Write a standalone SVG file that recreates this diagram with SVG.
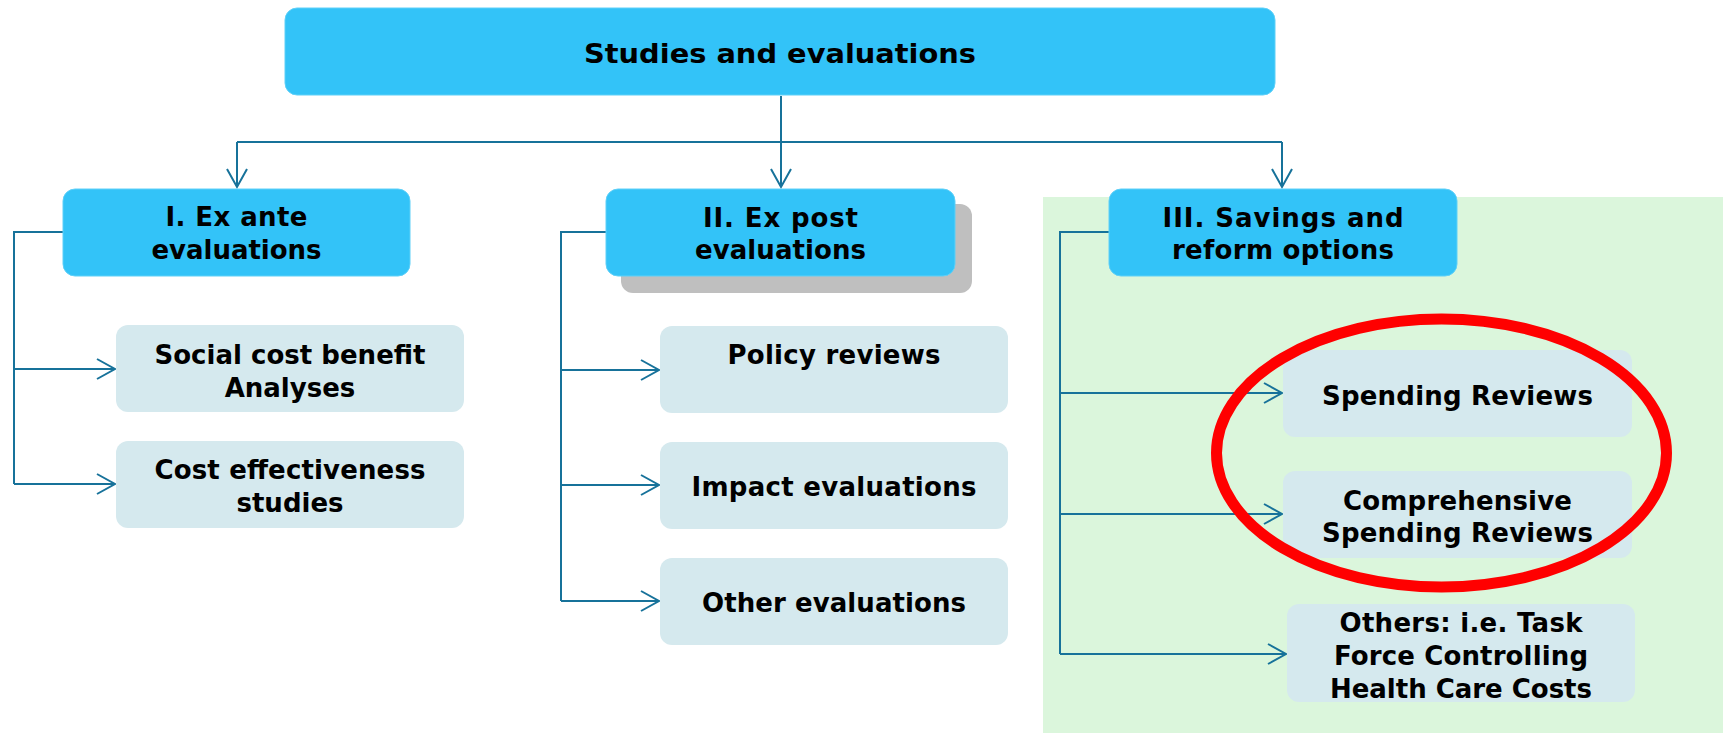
<svg xmlns="http://www.w3.org/2000/svg" width="1723" height="733" viewBox="0 0 1723 733">
<style>
.main{fill:#33c3f8;stroke:#5fd0f8;stroke-width:1}
.sub{fill:#d5e9ee}
.t{font-family:"DejaVu Sans","Liberation Sans",sans-serif;font-weight:bold;font-size:26px;fill:#000;text-anchor:middle}
.c{fill:none;stroke:#17729a;stroke-width:2}
</style>
<defs>
<marker id="ah" markerUnits="userSpaceOnUse" markerWidth="24" markerHeight="24" viewBox="-20 -12 22 24" refX="0" refY="0" orient="auto">
<path d="M-18,-10 L0,0 L-18,10" fill="none" stroke="#17729a" stroke-width="2"/>
</marker>
</defs>
<rect x="1043" y="197" width="680" height="536" fill="#dbf6dc"/>
<g id="connectors" class="c">
<path d="M781,96 V142"/>
<path d="M237,142 H1282"/>
<path d="M237,142 V187" marker-end="url(#ah)"/>
<path d="M781,142 V187" marker-end="url(#ah)"/>
<path d="M1282,142 V187" marker-end="url(#ah)"/>
<path d="M63,232 H14 V484"/>
<path d="M14,369 H115" marker-end="url(#ah)"/>
<path d="M14,484 H115" marker-end="url(#ah)"/>
<path d="M606,232 H561 V601"/>
<path d="M561,370 H659" marker-end="url(#ah)"/>
<path d="M561,485 H659" marker-end="url(#ah)"/>
<path d="M561,601 H659" marker-end="url(#ah)"/>
<path d="M1109,232 H1060 V654"/>
<path d="M1060,393 H1282" marker-end="url(#ah)"/>
<path d="M1060,514 H1282" marker-end="url(#ah)"/>
<path d="M1060,654 H1286" marker-end="url(#ah)"/>
</g>
<g id="n0">
<rect class="main" x="285" y="8" width="990" height="87" rx="12"/>
<text class="t" x="780" y="63" font-size="30" textLength="392" lengthAdjust="spacingAndGlyphs">Studies and evaluations</text>
</g>
<g id="n1">
<rect class="main" x="63" y="189" width="347" height="87" rx="12"/>
<text class="t" x="236.5" y="226" textLength="142">I. Ex ante</text>
<text class="t" x="236.5" y="259" textLength="170">evaluations</text>
</g>
<g id="n2">
<rect x="621" y="204" width="351" height="89" rx="12" fill="#bfbfbf"/>
<rect class="main" x="606" y="189" width="349" height="87" rx="12"/>
<text class="t" x="780.5" y="227" textLength="155">II. Ex post</text>
<text class="t" x="780.5" y="259" textLength="171">evaluations</text>
</g>
<g id="n3">
<rect class="main" x="1109" y="189" width="348" height="87" rx="12"/>
<text class="t" x="1283" y="227" textLength="241">III. Savings and</text>
<text class="t" x="1283" y="259" textLength="222">reform options</text>
</g>
<g id="n4">
<rect class="sub" x="116" y="325" width="348" height="87" rx="12"/>
<text class="t" x="290" y="364" textLength="271">Social cost benefit</text>
<text class="t" x="290" y="397">Analyses</text>
</g>
<g id="n5">
<rect class="sub" x="116" y="441" width="348" height="87" rx="12"/>
<text class="t" x="290" y="479" textLength="271">Cost effectiveness</text>
<text class="t" x="290" y="512">studies</text>
</g>
<g id="n6">
<rect class="sub" x="660" y="326" width="348" height="87" rx="12"/>
<text class="t" x="834" y="364" textLength="213">Policy reviews</text>
</g>
<g id="n7">
<rect class="sub" x="660" y="442" width="348" height="87" rx="12"/>
<text class="t" x="834" y="496" textLength="285">Impact evaluations</text>
</g>
<g id="n8">
<rect class="sub" x="660" y="558" width="348" height="87" rx="12"/>
<text class="t" x="834" y="612" textLength="264">Other evaluations</text>
</g>
<g id="n9">
<rect class="sub" x="1283" y="350" width="349" height="87" rx="12"/>
<text class="t" x="1457.5" y="405" textLength="271">Spending Reviews</text>
</g>
<g id="n10">
<rect class="sub" x="1283" y="471" width="349" height="87" rx="12"/>
<text class="t" x="1457.5" y="510" textLength="229">Comprehensive</text>
<text class="t" x="1457.5" y="542" textLength="271">Spending Reviews</text>
</g>
<g id="n11">
<rect class="sub" x="1287" y="604" width="348" height="98" rx="12"/>
<text class="t" x="1461" y="632" textLength="243">Others: i.e. Task</text>
<text class="t" x="1461" y="665" textLength="254">Force Controlling</text>
<text class="t" x="1461" y="698" textLength="262">Health Care Costs</text>
</g>
<ellipse id="highlight" cx="1441.5" cy="453" rx="225" ry="134" fill="none" stroke="#ff0000" stroke-width="11"/>
</svg>
